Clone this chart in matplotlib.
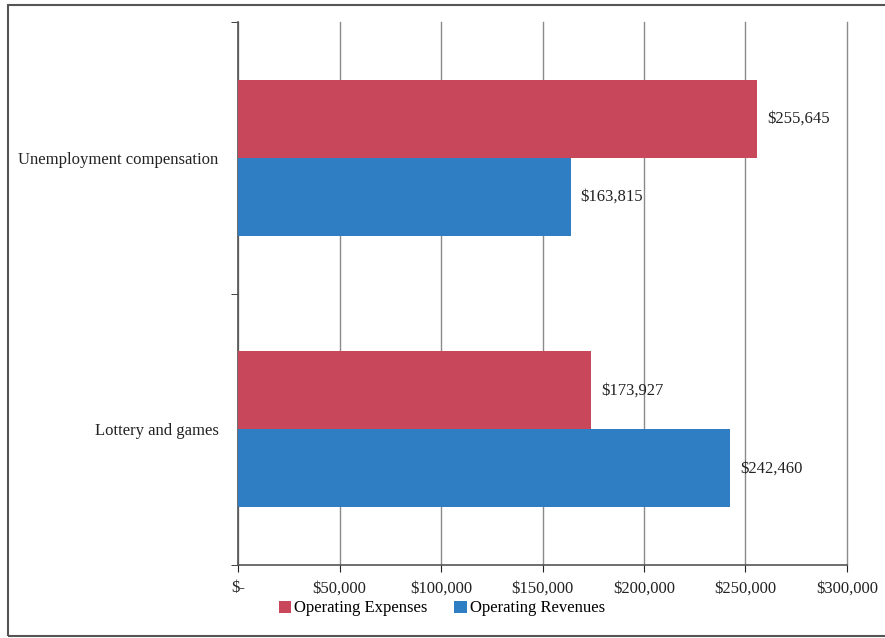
import matplotlib.pyplot as plt
from matplotlib.patches import Rectangle
import numpy as np

# data
categories = ['Lottery and games', 'Unemployment compensation']
expenses = [173927, 255645]
revenues = [242460, 163815]
xticks = [0, 50000, 100000, 150000, 200000, 250000, 300000]
xtick_labels = ['$-', '$50,000', '$100,000', '$150,000', '$200,000', '$250,000', '$300,000']

red = '#C9475A'
blue = '#2F7DC2'

plt.rcParams['font.family'] = ['Liberation Serif', 'DejaVu Serif']

fig = plt.figure(figsize=(8.85, 6.38), dpi=100)
ax = fig.add_axes([0.269, 0.1144, 0.688, 0.851])

y = np.arange(len(categories))
h = 0.287
b1 = ax.barh(y + h/2, expenses, height=h, color=red, label='Operating Expenses', zorder=3)
b2 = ax.barh(y - h/2, revenues, height=h, color=blue, label='Operating Revenues', zorder=3)

for bars, vals in [(b1, expenses), (b2, revenues)]:
    for bar, v in zip(bars, vals):
        ax.text(v + 5000, bar.get_y() + bar.get_height()/2, '${:,}'.format(v),
                va='center', ha='left', fontsize=12, color='#222222', zorder=4)

ax.set_xlim(0, 300000)
ax.set_ylim(-0.5, 1.5)
ax.set_xticks(xticks)
ax.set_xticklabels(xtick_labels, fontsize=12)
ax.set_yticks(y)
ax.set_yticklabels(categories, fontsize=12)
ax.set_yticks([-0.5, 0.5, 1.5], minor=True)
ax.tick_params(axis='y', which='major', length=0, pad=14)
ax.tick_params(axis='y', which='minor', length=5, direction='out', color='#555555')
ax.tick_params(axis='x', which='major', length=5, direction='out', color='#555555', pad=6)
ax.tick_params(colors='#222222', which='both', labelcolor='#222222')

ax.grid(axis='x', color='#8a8a8a', linewidth=1.0, zorder=0)
for gl in ax.get_xgridlines():
    gl.set_clip_on(False)
for s in ['top', 'right']:
    ax.spines[s].set_visible(False)
for s in ['left', 'bottom']:
    ax.spines[s].set_color('#555555')
    ax.spines[s].set_linewidth(1.2)

ax.legend(loc='center', bbox_to_anchor=(0.335, -0.08), ncol=2, frameon=False,
          fontsize=12, handlelength=0.75, handleheight=0.75, handletextpad=0.2,
          columnspacing=1.6, borderaxespad=0, borderpad=0)

fig.patches.append(Rectangle((8/885, 1 - 636/638), 1, 631/638, transform=fig.transFigure,
                             fill=False, edgecolor='#555555', linewidth=1.5))

fig.savefig('out.png', dpi=100)
